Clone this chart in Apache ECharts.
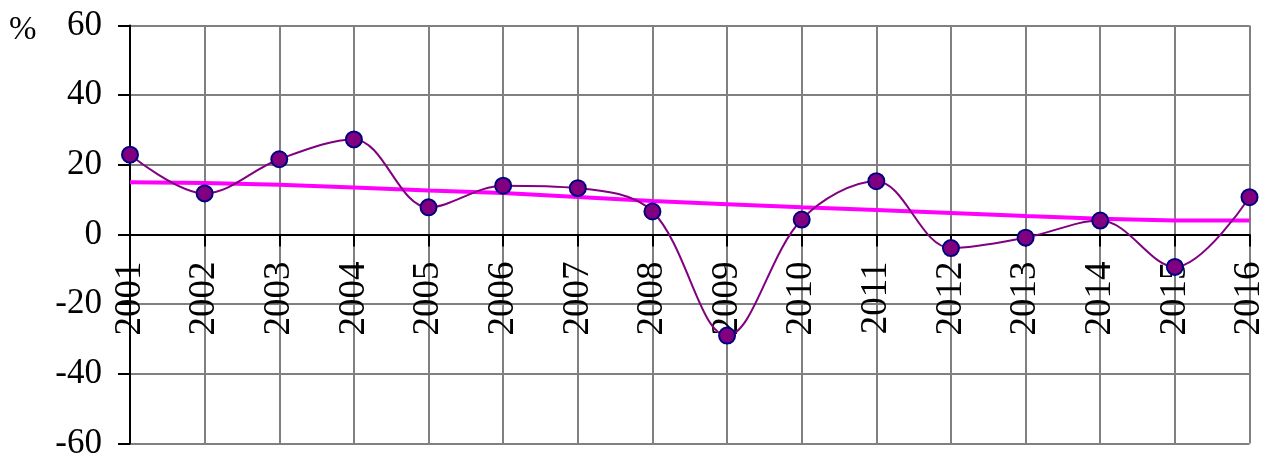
<!DOCTYPE html>
<html>
<head>
<meta charset="utf-8">
<script src="https://cdn.jsdelivr.net/npm/echarts@6/dist/echarts.min.js"></script>
<style>
  html, body { margin: 0; padding: 0; background: #fff; }
  #chart { width: 1271px; height: 459px; }
</style>
</head>
<body>
<div id="chart"></div>
<script>
// years on the x axis
const years = ['2001', '2002', '2003', '2004', '2005', '2006', '2007', '2008',
  '2009', '2010', '2011', '2012', '2013', '2014', '2015', '2016'];
// growth, %
const growth = [22.9, 11.8, 21.6, 27.3, 7.8, 14.0, 13.3, 6.6,
  -29.0, 4.3, 15.3, -3.9, -0.9, 4.0, -9.3, 10.7];
// trend line
const trend = [15.0, 14.8, 14.3, 13.5, 12.6, 11.9, 10.8, 9.6,
  8.7, 7.8, 7.0, 6.2, 5.3, 4.5, 4.0, 4.0];

const font = 'Liberation Serif';

var myChart = echarts.init(document.getElementById('chart'));
var option = {
  animation: false,
  grid: {
    left: 130, right: 21.5, top: 25.5, bottom: 15.5,
    containLabel: false,
    outerBoundsMode: 'none'
  },
  graphic: [
    {
      type: 'text',
      left: 9,
      top: 14,
      style: { text: '%', fontSize: 33, fontFamily: font, fill: '#000' }
    }
  ],
  xAxis: [
    {
      // grid lines only
      type: 'category',
      data: years,
      boundaryGap: false,
      axisLine: { show: false },
      axisTick: { show: false },
      axisLabel: { show: false },
      splitLine: { show: true, lineStyle: { color: '#808080', width: 2 } }
    },
    {
      // axis drawn on the zero line, labels hanging below it
      type: 'category',
      data: years,
      boundaryGap: false,
      position: 'bottom',
      offset: -209,
      axisLine: { onZero: false, lineStyle: { color: '#000', width: 2 } },
      axisTick: { show: true, length: 12, lineStyle: { color: '#000', width: 2 } },
      splitLine: { show: false },
      axisLabel: {
        rotate: 90,
        margin: 27,
        color: '#000',
        fontSize: 37,
        fontFamily: font,
        interval: 0,
        hideOverlap: false
      }
    }
  ],
  yAxis: {
    type: 'value',
    min: -60,
    max: 60,
    interval: 20,
    axisLine: { show: true, onZero: false, lineStyle: { color: '#000', width: 2 } },
    axisTick: { show: true, length: 12, lineStyle: { color: '#000', width: 2 } },
    splitLine: { show: true, lineStyle: { color: '#808080', width: 2 } },
    axisLabel: {
      margin: 28,
      color: '#000',
      fontSize: 35,
      fontFamily: font
    }
  },
  series: [
    {
      name: 'trend',
      type: 'line',
      data: trend,
      symbol: 'none',
      lineStyle: { color: '#FF00FF', width: 4 },
      z: 2
    },
    {
      name: 'growth',
      type: 'line',
      data: growth,
      smooth: 0.35,
      symbol: 'circle',
      symbolSize: 16,
      lineStyle: { color: '#800080', width: 2 },
      itemStyle: { color: '#800080', borderColor: '#000080', borderWidth: 2 },
      z: 3
    }
  ]
};

option && myChart.setOption(option);
</script>
</body>
</html>
